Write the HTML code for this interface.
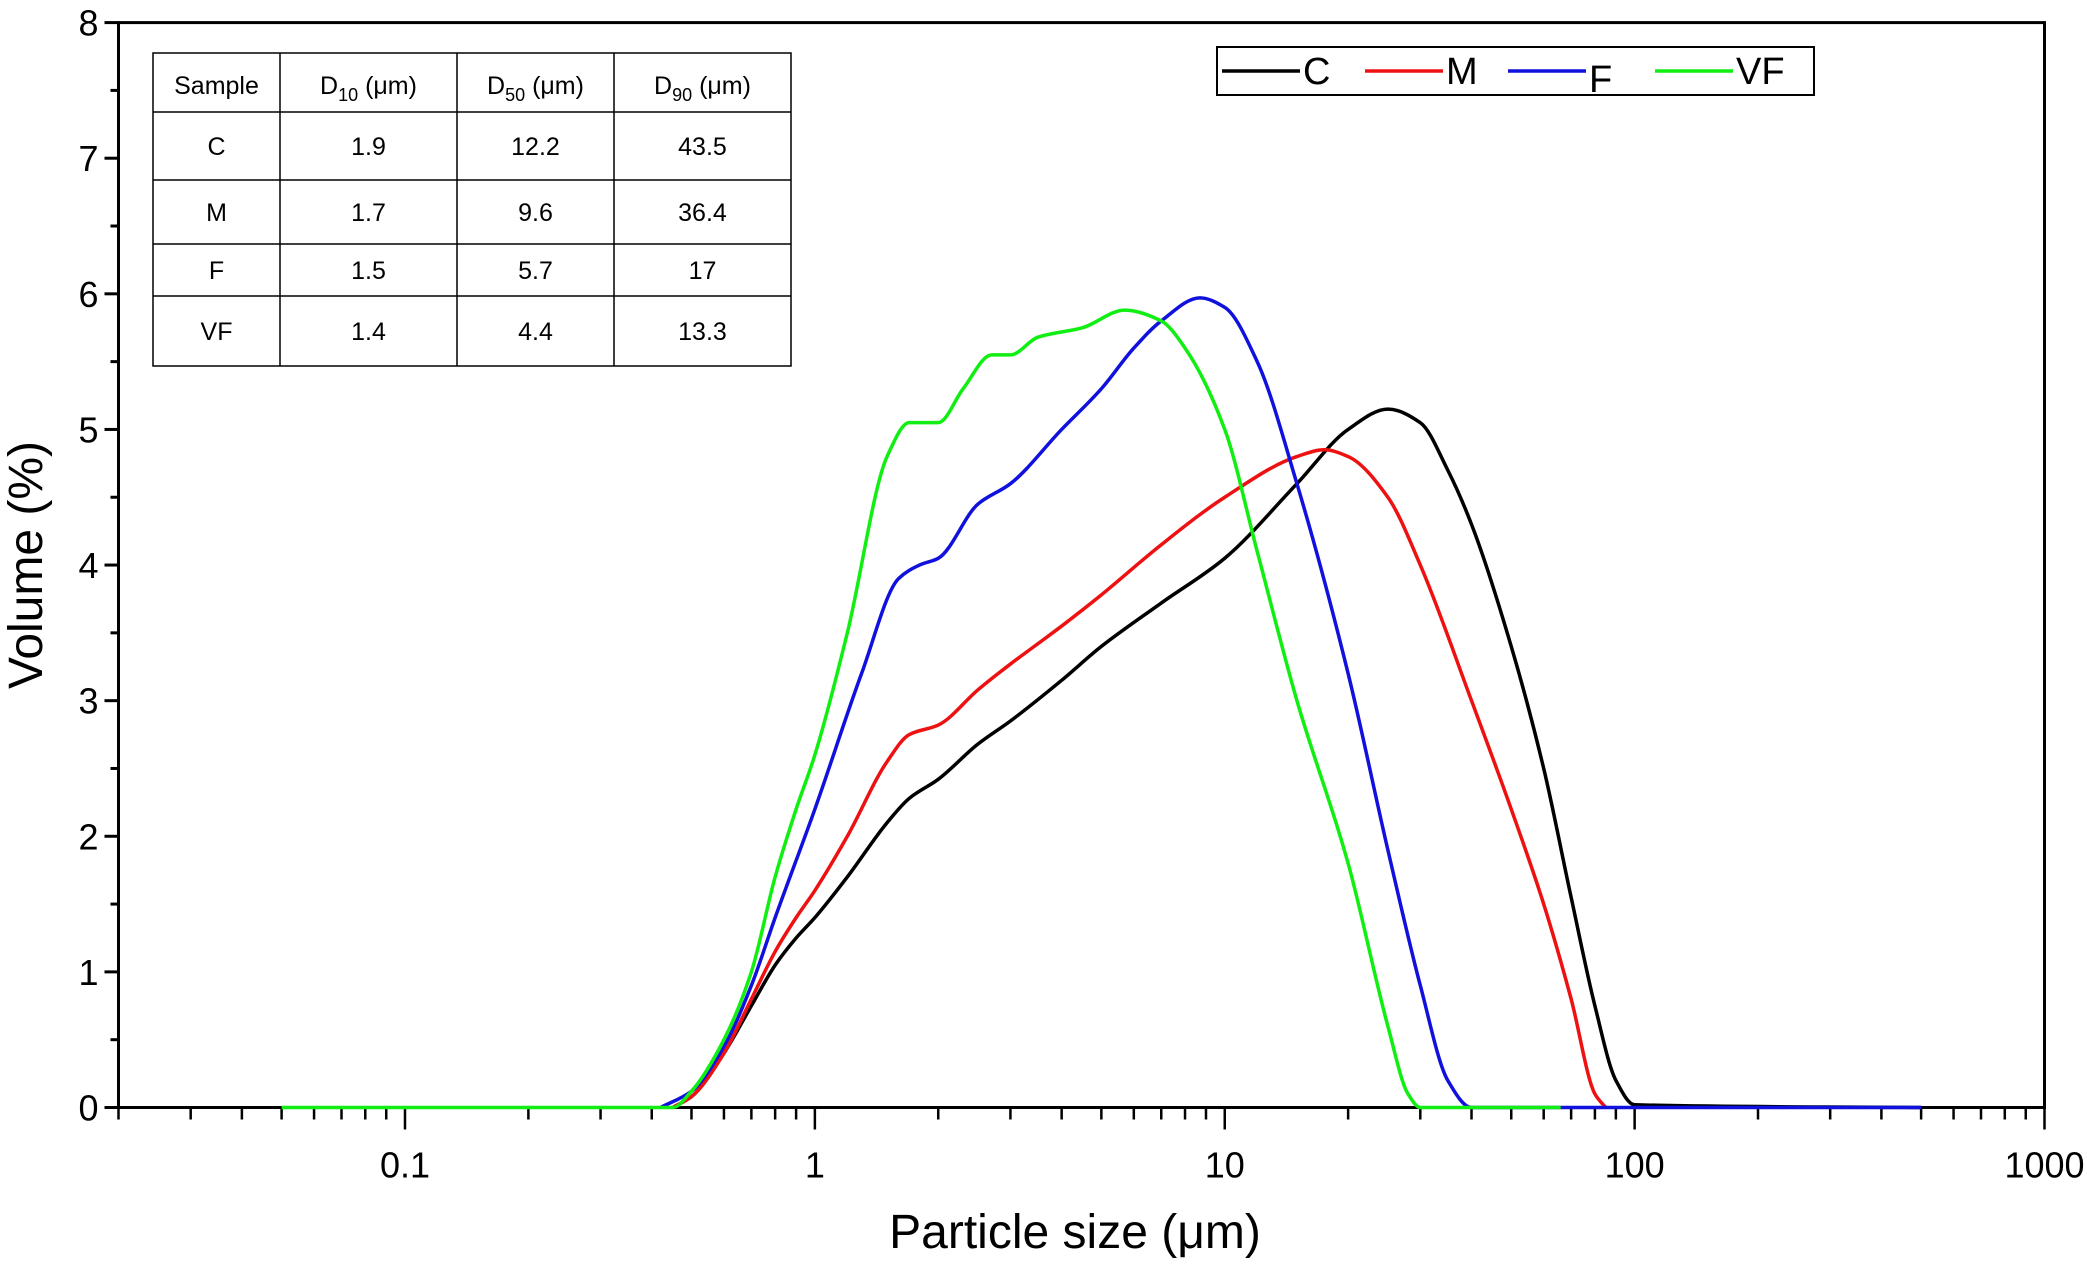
<!DOCTYPE html>
<html><head><meta charset="utf-8"><style>
html,body{margin:0;padding:0;background:#fff;}
svg{display:block;font-family:"Liberation Sans",Arial,sans-serif;}
</style></head><body>
<svg id="chart" width="2087" height="1264" viewBox="0 0 2087 1264">
<g id="axes"></g>
<g id="series"></g>
<g id="table"></g>
<g id="legend"></g>
</svg>
<script>
const seriesNames = ["C","M","F","VF"];
const seriesColors = ["#000000","#ee1111","#1111dd","#11ee11"];
const xC = [0.45,0.5,0.6,0.7,0.8,0.9,1,1.2,1.5,1.7,2,2.5,3,4,5,7,10,15,20,25,30,35,40,50,60,70,80,90,100,500];
const yC = [0,0.08,0.4,0.75,1.05,1.25,1.4,1.7,2.1,2.28,2.42,2.68,2.85,3.15,3.4,3.72,4.05,4.6,5.0,5.15,5.05,4.7,4.3,3.4,2.5,1.55,0.75,0.2,0.02,0];
const xM = [0.45,0.5,0.6,0.7,0.8,0.9,1,1.2,1.5,1.7,2,2.5,2.8,3,4,5,7,10,15,17.5,20,25,30,40,50,60,70,80,85];
const yM = [0,0.08,0.4,0.8,1.15,1.4,1.6,2.0,2.55,2.75,2.82,3.08,3.2,3.27,3.55,3.78,4.15,4.5,4.8,4.85,4.8,4.5,4.0,3.0,2.2,1.5,0.8,0.1,0];
const xF = [0.42,0.5,0.6,0.7,0.8,1,1.3,1.6,1.8,2,2.5,3,4,5,6,7,8.7,10,12,15,20,25,30,35,40,66,500];
const yF = [0,0.12,0.45,0.9,1.4,2.2,3.2,3.9,4.0,4.05,4.45,4.6,5.0,5.3,5.6,5.8,5.97,5.9,5.5,4.6,3.2,1.9,0.9,0.2,0,0,0];
const xVF = [0.05,0.45,0.5,0.6,0.7,0.8,0.9,1,1.2,1.5,1.7,2,2.3,2.7,3,3.5,4.5,5.7,7,8,10,12,15,20,25,28,30,66];
const yVF = [0,0,0.12,0.5,1.0,1.7,2.2,2.6,3.5,4.8,5.05,5.05,5.3,5.55,5.55,5.68,5.75,5.88,5.8,5.6,5.0,4.1,3.0,1.8,0.6,0.1,0,0];
const yTicks = [0,1,2,3,4,5,6,7,8];
const xTickLabels = ["0.1","1","10","100","1000"];
const tableHeader = ["Sample","D10","D50","D90"];
const tableRows = [["C","1.9","12.2","43.5"],["M","1.7","9.6","36.4"],["F","1.5","5.7","17"],["VF","1.4","4.4","13.3"]];

const NS="http://www.w3.org/2000/svg";
const L=118.5,R=2044.5,T=22.6,B=1107.5;
const xmin=Math.log10(0.02), xmax=3;
function X(v){return L+(Math.log10(v)-xmin)/(xmax-xmin)*(R-L);}
function Y(v){return B-(v/8)*(B-T);}
function el(tag,attrs,parent,text){const e=document.createElementNS(NS,tag);for(const k in attrs)e.setAttribute(k,attrs[k]);if(text!==undefined)e.textContent=text;parent.appendChild(e);return e;}
const axes=document.getElementById('axes');
let f=el('rect',{x:L,y:T,width:R-L,height:B-T,fill:'none',stroke:'#000','stroke-width':3},axes);


yTicks.forEach(v=>{
  let t=el('line',{x1:L-14,x2:L,y1:Y(v),y2:Y(v),stroke:'#000','stroke-width':3},axes);
  
  
  let tx=el('text',{x:L-20,y:Y(v)+13,'text-anchor':'end','font-size':36},axes,String(v));
  
  
  if(v<8){let m=el('line',{x1:L-8,x2:L,y1:Y(v+0.5),y2:Y(v+0.5),stroke:'#000','stroke-width':3},axes);
  
  }
});
for(let d=-2;d<=3;d++){
  for(let k=1;k<=9;k++){
    const v=k*Math.pow(10,d); if(v<0.02-1e-9||v>1000+1e-9)continue;
    const major=k===1;
    let t=el('line',{x1:X(v),x2:X(v),y1:B,y2:B+(major?22:12),stroke:'#000','stroke-width':2.5},axes);
    
    
  }
}
xTickLabels.forEach(s=>{
  let tx=el('text',{x:X(parseFloat(s)),y:B+70,'text-anchor':'middle','font-size':36},axes,s);
  
  
});
let xt=el('text',{x:1075,y:1248,'text-anchor':'middle','font-size':48},axes,'Particle size (μm)');


let yt=el('text',{x:0,y:0,'text-anchor':'middle','font-size':48,transform:'translate(42,565) rotate(-90)'},axes,'Volume (%)');



// monotone cubic (Fritsch-Carlson) in pixel space
function pathFor(xs,ys){
  const px=xs.map(X), py=ys.map(Y), n=px.length;
  const dl=[], m=new Array(n);
  for(let i=0;i<n-1;i++) dl.push((py[i+1]-py[i])/(px[i+1]-px[i]));
  m[0]=dl[0]; m[n-1]=dl[n-2];
  for(let i=1;i<n-1;i++){
    if(dl[i-1]*dl[i]<=0) m[i]=0;
    else { const h0=px[i]-px[i-1], h1=px[i+1]-px[i];
      const w1=2*h1+h0, w2=h1+2*h0; m[i]=(w1+w2)/(w1/dl[i-1]+w2/dl[i]); }
  }
  let d='M'+px[0]+','+py[0];
  for(let i=0;i<n-1;i++){
    const h=(px[i+1]-px[i])/3;
    d+=' C'+(px[i]+h)+','+(py[i]+m[i]*h)+' '+(px[i+1]-h)+','+(py[i+1]-m[i+1]*h)+' '+px[i+1]+','+py[i+1];
  }
  return d;
}
const sg=document.getElementById('series');
const allX=[xC,xM,xF,xVF], allY=[yC,yM,yF,yVF];
[0,1,2,3].forEach(i=>{
  let p=el('path',{d:pathFor(allX[i],allY[i]),fill:'none',stroke:seriesColors[i],'stroke-width':3.5},sg);
  
  
});

const tg=document.getElementById('table');
const cols=[153,280,457,614,791], rows=[53,112,180,244,296,366];
let tb=el('rect',{x:cols[0],y:rows[0],width:cols[4]-cols[0],height:rows[5]-rows[0],fill:'#fff',stroke:'#000','stroke-width':1.5},tg);


cols.slice(1,4).forEach(c=>el('line',{x1:c,x2:c,y1:rows[0],y2:rows[5],stroke:'#000','stroke-width':1.5},tg));
rows.slice(1,5).forEach(r=>el('line',{x1:cols[0],x2:cols[4],y1:r,y2:r,stroke:'#000','stroke-width':1.5},tg));
tableHeader.forEach((h,j)=>{
  const cx=(cols[j]+cols[j+1])/2;
  let t=el('text',{x:cx,y:94,'text-anchor':'middle','font-size':25},tg);
  
  
  if(j===0){t.textContent=h;}
  else{
    el('tspan',{},t,'D');
    el('tspan',{'font-size':18,dy:7},t,h.slice(1));
    el('tspan',{dy:-7},t,' (μm)');
  }
});
tableRows.forEach((r,i)=>{
  r.forEach((v,j)=>{
    const cx=(cols[j]+cols[j+1])/2, cy=(rows[i+1]+rows[i+2])/2+9;
    let t=el('text',{x:cx,y:cy,'text-anchor':'middle','font-size':25},tg,v);
    
    
  });
});

const lg=document.getElementById('legend');
let lb=el('rect',{x:1217,y:47,width:597,height:48,fill:'#fff',stroke:'#000','stroke-width':2},lg);


const lx=[1222,1365,1508,1655];
seriesNames.forEach((n,i)=>{
  let ln=el('line',{x1:lx[i],x2:lx[i]+78,y1:71,y2:71,stroke:seriesColors[i],'stroke-width':3.5},lg);
  
  
  let t=el('text',{x:lx[i]+81,y:84+(n==='F'?8:0),'font-size':38},lg,n);
  
  
});
</script>
</body></html>
